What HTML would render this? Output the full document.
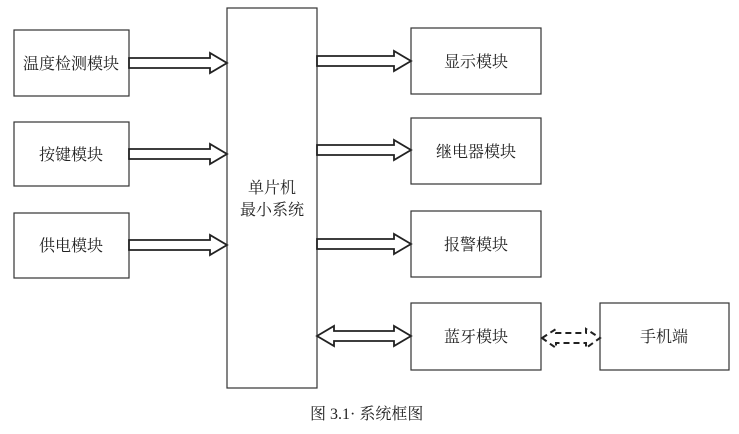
<!DOCTYPE html>
<html><head><meta charset="utf-8"><style>
body{margin:0;background:#fff;}
svg text{font-family:"Liberation Serif","Noto Serif CJK SC","Noto Sans CJK SC",serif;fill:#222;}
</style></head><body>
<svg width="739" height="429" xmlns="http://www.w3.org/2000/svg">
<g fill="#fff" stroke="#333" stroke-width="1.2">
<rect x="14" y="30" width="115" height="66"/>
<rect x="14" y="122" width="115" height="64"/>
<rect x="14" y="213" width="115" height="65"/>
<rect x="227" y="8" width="90" height="380"/>
<rect x="411" y="28" width="130" height="66"/>
<rect x="411" y="118" width="130" height="66"/>
<rect x="411" y="211" width="130" height="66"/>
<rect x="411" y="303" width="130" height="67"/>
<rect x="600" y="303" width="129" height="67"/>
</g>
<g fill="#fff" stroke="#222" stroke-width="1.8">
<path d="M129 58 H210 V53 L227 63 L210 73 V68 H129 Z"/>
<path d="M129 149 H210 V144 L227 154 L210 164 V159 H129 Z"/>
<path d="M129 240 H210 V235 L227 245 L210 255 V250 H129 Z"/>
<path d="M317 56 H394 V51 L411 61 L394 71 V66 H317 Z"/>
<path d="M317 145 H394 V140 L411 150 L394 160 V155 H317 Z"/>
<path d="M317 239 H394 V234 L411 244 L394 254 V249 H317 Z"/>
<path d="M317 336 L334 326 V331 H394 V326 L411 336 L394 346 V341 H334 V346 Z"/>
<path d="M542 338 L556 329 V333 H586 V329 L600 338 L586 348 V343 H556 V348 Z" stroke-dasharray="6,4" stroke-width="2"/>
</g>
<g font-size="16" text-anchor="middle">
<text x="71" y="69">温度检测模块</text>
<text x="71" y="160">按键模块</text>
<text x="71" y="251">供电模块</text>
<text x="272" y="193">单片机</text>
<text x="272" y="215">最小系统</text>
<text x="476" y="67">显示模块</text>
<text x="476" y="157">继电器模块</text>
<text x="476" y="250">报警模块</text>
<text x="476" y="342">蓝牙模块</text>
<text x="664" y="342">手机端</text>
</g>
<text x="310" y="419" font-size="16">图 3.1· 系统框图</text>
</svg>
</body></html>
